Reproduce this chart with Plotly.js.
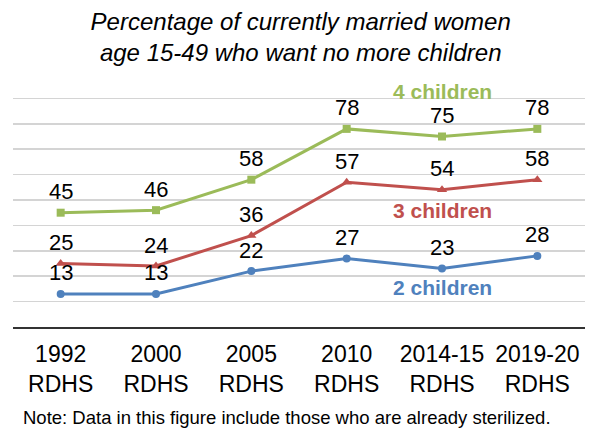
<!DOCTYPE html>
<html>
<head>
<meta charset="utf-8">
<script src="https://cdn.plot.ly/plotly-3.0.1.min.js"></script>
<style>html,body{margin:0;padding:0;background:#fff;}#chart{width:589px;height:429px;}</style>
</head>
<body>
<div id="chart"></div>
<script>
const surveys = ["1992", "2000", "2005", "2010", "2014-15", "2019-20"];
const surveyLabels = ["1992<br>RDHS", "2000<br>RDHS", "2005<br>RDHS", "2010<br>RDHS", "2014-15<br>RDHS", "2019-20<br>RDHS"];
const children4 = [45, 46, 58, 78, 75, 78];
const children3 = [25, 24, 36, 57, 54, 58];
const children2 = [13, 13, 22, 27, 23, 28];
const seriesNames = ["4 children", "3 children", "2 children"];

const colors = ["#9BBB59", "#C0504D", "#4F81BD"];
const symbols = ["square", "triangle-up", "circle"];
const allSeries = [children4, children3, children2];

const traces = allSeries.map((vals, i) => ({
  type: "scatter",
  mode: "lines+markers",
  x: surveys.map((s, j) => j),
  y: vals,
  name: seriesNames[i],
  line: {color: colors[i], width: 3},
  marker: {color: colors[i], symbol: symbols[i], size: i === 1 ? 9 : 8},
  hoverinfo: "skip"
}));

const annotations = [];
allSeries.forEach((vals) => {
  vals.forEach((v, j) => {
    annotations.push({
      x: j, y: v, xref: "x", yref: "y",
      text: String(v), showarrow: false,
      yshift: 21, yanchor: "middle", xanchor: "center",
      font: {family: "Liberation Sans, Arial, sans-serif", size: 22, color: "#000"}
    });
  });
});
// series name labels
const namePos = [[4, 92.8], [4, 46], [4, 15.6]];
seriesNames.forEach((n, i) => {
  annotations.push({
    x: namePos[i][0], y: namePos[i][1], xref: "x", yref: "y",
    text: "<b>" + n + "</b>", showarrow: false,
    xanchor: "center", yanchor: "middle",
    font: {family: "Liberation Sans, Arial, sans-serif", size: 21, color: colors[i]}
  });
});
annotations.push({
  x: 0.014, y: -0.358, xref: "paper", yref: "paper",
  xanchor: "left", yanchor: "middle", showarrow: false,
  text: "Note: Data in this figure include those who are already sterilized.",
  font: {family: "Liberation Sans, Arial, sans-serif", size: 18.5, color: "#000"}
});

const layout = {
  width: 589, height: 429,
  margin: {l: 13, r: 4, t: 73, b: 102},
  paper_bgcolor: "#fff", plot_bgcolor: "#fff",
  showlegend: false,
  title: {
    text: "<i>Percentage of currently married women<br>age 15-49 who want no more children</i>",
    x: 0.503, xref: "paper", xanchor: "center",
    y: 0.93, yref: "container", yanchor: "top",
    font: {family: "Liberation Sans, Arial, sans-serif", size: 24, color: "#000"}
  },
  xaxis: {
    tickmode: "array", tickvals: surveys.map((s, j) => j), ticktext: surveyLabels,
    range: [-0.5, 5.5],
    showgrid: false, showline: true, linecolor: "#333", linewidth: 1.5,
    ticks: "", zeroline: false, ticklabelstandoff: 6,
    tickfont: {family: "Liberation Sans, Arial, sans-serif", size: 23, color: "#000"}
  },
  yaxis: {
    range: [0, 100], dtick: 10, tick0: 0,
    showticklabels: false, ticks: "",
    showgrid: true, gridcolor: "#d4d4d4", gridwidth: 1.5,
    zeroline: false, showline: false
  },
  annotations: annotations
};

Plotly.newPlot("chart", traces, layout, {displayModeBar: false, staticPlot: true});
</script>
</body>
</html>
